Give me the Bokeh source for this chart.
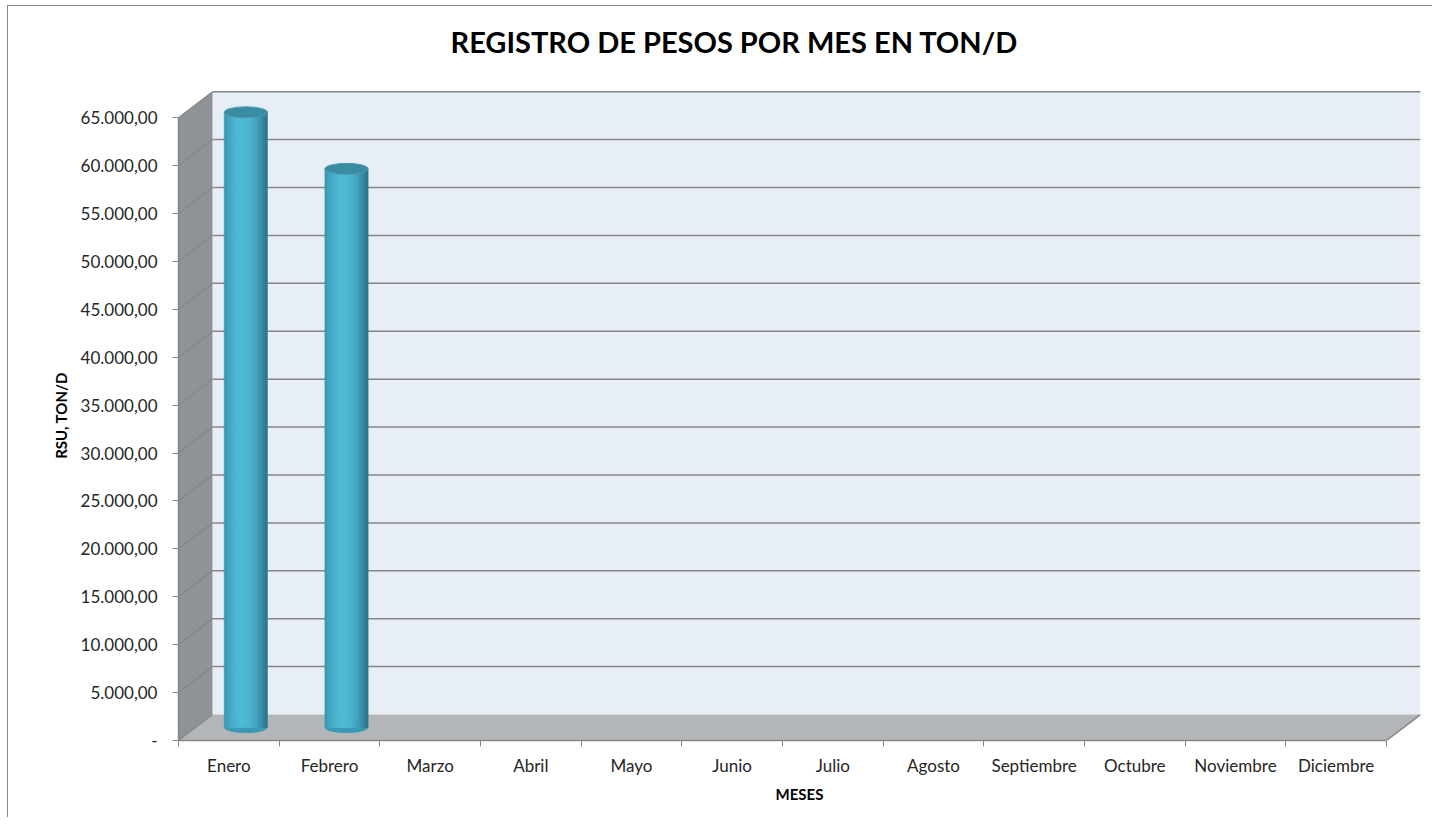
from bokeh.plotting import figure
from bokeh.models import Range1d, FixedTicker, Title
from bokeh.embed import file_html
from bokeh.resources import INLINE

# ---------------- data ----------------
months = ["Enero", "Febrero", "Marzo", "Abril", "Mayo", "Junio", "Julio",
          "Agosto", "Septiembre", "Octubre", "Noviembre", "Diciembre"]
values = [64200, 58300, None, None, None, None, None, None, None, None, None, None]
y_ticks = [0, 5000, 10000, 15000, 20000, 25000, 30000, 35000, 40000,
           45000, 50000, 55000, 60000, 65000]
y_tick_labels = ["-", "5.000,00", "10.000,00", "15.000,00", "20.000,00",
                 "25.000,00", "30.000,00", "35.000,00", "40.000,00",
                 "45.000,00", "50.000,00", "55.000,00", "60.000,00", "65.000,00"]
title_text = "REGISTRO DE PESOS POR MES EN TON/D"

# ---------------- 3D style constants ----------------
DX = 0.338      # depth offset along x (category units)
DY = 2710       # depth offset along y (value units)
YMAX = y_ticks[-1]
NCAT = len(months)

WALL = "#E8EEF5"
SIDE = "#8F9296"
FLOOR = "#B3B6B9"
GRID = "#868686"
FONT = "Lato"

p = figure(width=1425, height=812, output_backend="svg", toolbar_location=None,
           title=None,
           x_range=Range1d(0, NCAT + DX), y_range=Range1d(0, YMAX + DY + 120),
           min_border_left=170, min_border_right=13, min_border_top=84,
           min_border_bottom=78)
p.styles = {"border-left": "1.5px solid #868686", "border-top": "1.5px solid #868686",
            "margin-left": "7px", "margin-top": "5px"}
p.outline_line_color = None
p.xgrid.visible = False
p.ygrid.visible = False
p.background_fill_color = "white"

# spacer panel between frame and title, then the title itself
p.add_layout(Title(text=" ", text_font_size="16px", standoff=8), "above")
p.add_layout(Title(text=title_text, align="left", offset=272, standoff=10,
                   text_font=FONT, text_font_size="29px", text_font_style="bold",
                   text_color="#000000"), "above")

# back wall
p.patch([DX, NCAT + DX, NCAT + DX, DX], [DY, DY, YMAX + DY, YMAX + DY],
        fill_color=WALL, line_color=None)
# left side wall
p.patch([0, DX, DX, 0], [0, DY, YMAX + DY, YMAX], fill_color=SIDE, line_color=None)
# floor
p.patch([0, NCAT, NCAT + DX, DX], [0, 0, DY, DY], fill_color=FLOOR, line_color=None)

# gridlines on back wall and side wall
gv = y_ticks[1:]
p.segment(x0=[DX] * len(gv), y0=[v + DY for v in gv], x1=[NCAT + DX] * len(gv),
          y1=[v + DY for v in gv], line_color=GRID, line_width=1.5)
p.segment(x0=[0] * len(y_ticks), y0=y_ticks, x1=[DX] * len(y_ticks),
          y1=[v + DY for v in y_ticks], line_color=GRID, line_width=1.2)
# floor right edge
p.segment(x0=[NCAT], y0=[0], x1=[NCAT + DX], y1=[DY], line_color=GRID, line_width=1.5)

# cylinders
W = 0.43
EH = 1150
NS = 18
for i, v in enumerate(values):
    if v is None:
        continue
    cx = i + 0.5 + DX / 2
    base = DY / 2
    top = v + DY / 2
    # bottom ellipse
    p.ellipse(x=[cx], y=[base], width=W, height=EH, fill_color="#3A9AB5", line_color=None)
    lefts, rights, cols = [], [], []
    for k in range(NS):
        t = (k + 0.5) / NS
        f = max(0.0, 1 - ((t - 0.42) / 0.6) ** 2)
        r = int(38 + (80 - 38) * f)
        g = int(108 + (186 - 108) * f)
        b = int(130 + (214 - 130) * f)
        lefts.append(cx - W / 2 + k * W / NS)
        rights.append(cx - W / 2 + (k + 1) * W / NS + (0.006 if k < NS - 1 else 0))
        cols.append("#%02x%02x%02x" % (r, g, b))
    p.quad(left=lefts, right=rights, bottom=[base] * NS, top=[top] * NS,
           fill_color=cols, line_color=cols, line_width=0.5)
    # top ellipse
    p.ellipse(x=[cx], y=[top], width=W, height=EH, fill_color="#3A8CA3",
              line_color="#4A9CB3", line_width=1)

# axes
xa = p.xaxis[0]
xa.ticker = FixedTicker(ticks=[i + 0.5 for i in range(NCAT)],
                        minor_ticks=list(range(NCAT + 1)))
xa.major_label_overrides = {i + 0.5: m for i, m in enumerate(months)}
xa.bounds = (0, NCAT)
xa.major_tick_out = 0
xa.major_tick_in = 0
xa.minor_tick_out = 6
xa.minor_tick_in = 0
xa.minor_tick_line_color = GRID
xa.axis_line_color = GRID
xa.axis_line_width = 1.5
xa.major_label_standoff = 8
xa.major_label_text_font = FONT
xa.major_label_text_font_size = "17px"
xa.major_label_text_color = "#262626"
xa.axis_label = "MESES"
xa.axis_label_text_font = FONT
xa.axis_label_text_font_style = "bold"
xa.axis_label_text_font_size = "15px"
xa.axis_label_text_color = "#000000"
xa.axis_label_standoff = 6

ya = p.yaxis[0]
ya.ticker = FixedTicker(ticks=y_ticks, minor_ticks=[])
ya.major_label_overrides = {v: s for v, s in zip(y_ticks, y_tick_labels)}
ya.bounds = (0, YMAX)
ya.major_tick_out = 6
ya.major_tick_in = 0
ya.major_tick_line_color = GRID
ya.axis_line_color = GRID
ya.axis_line_width = 1.5
ya.major_label_standoff = 15
ya.major_label_text_font = FONT
ya.major_label_text_font_size = "17px"
ya.major_label_text_color = "#262626"
ya.axis_label = "RSU, TON/D"
ya.axis_label_text_font = FONT
ya.axis_label_text_font_style = "bold"
ya.axis_label_text_font_size = "15px"
ya.axis_label_text_color = "#000000"
ya.axis_label_standoff = 8

open("out.html", "w").write(file_html(p, INLINE))
